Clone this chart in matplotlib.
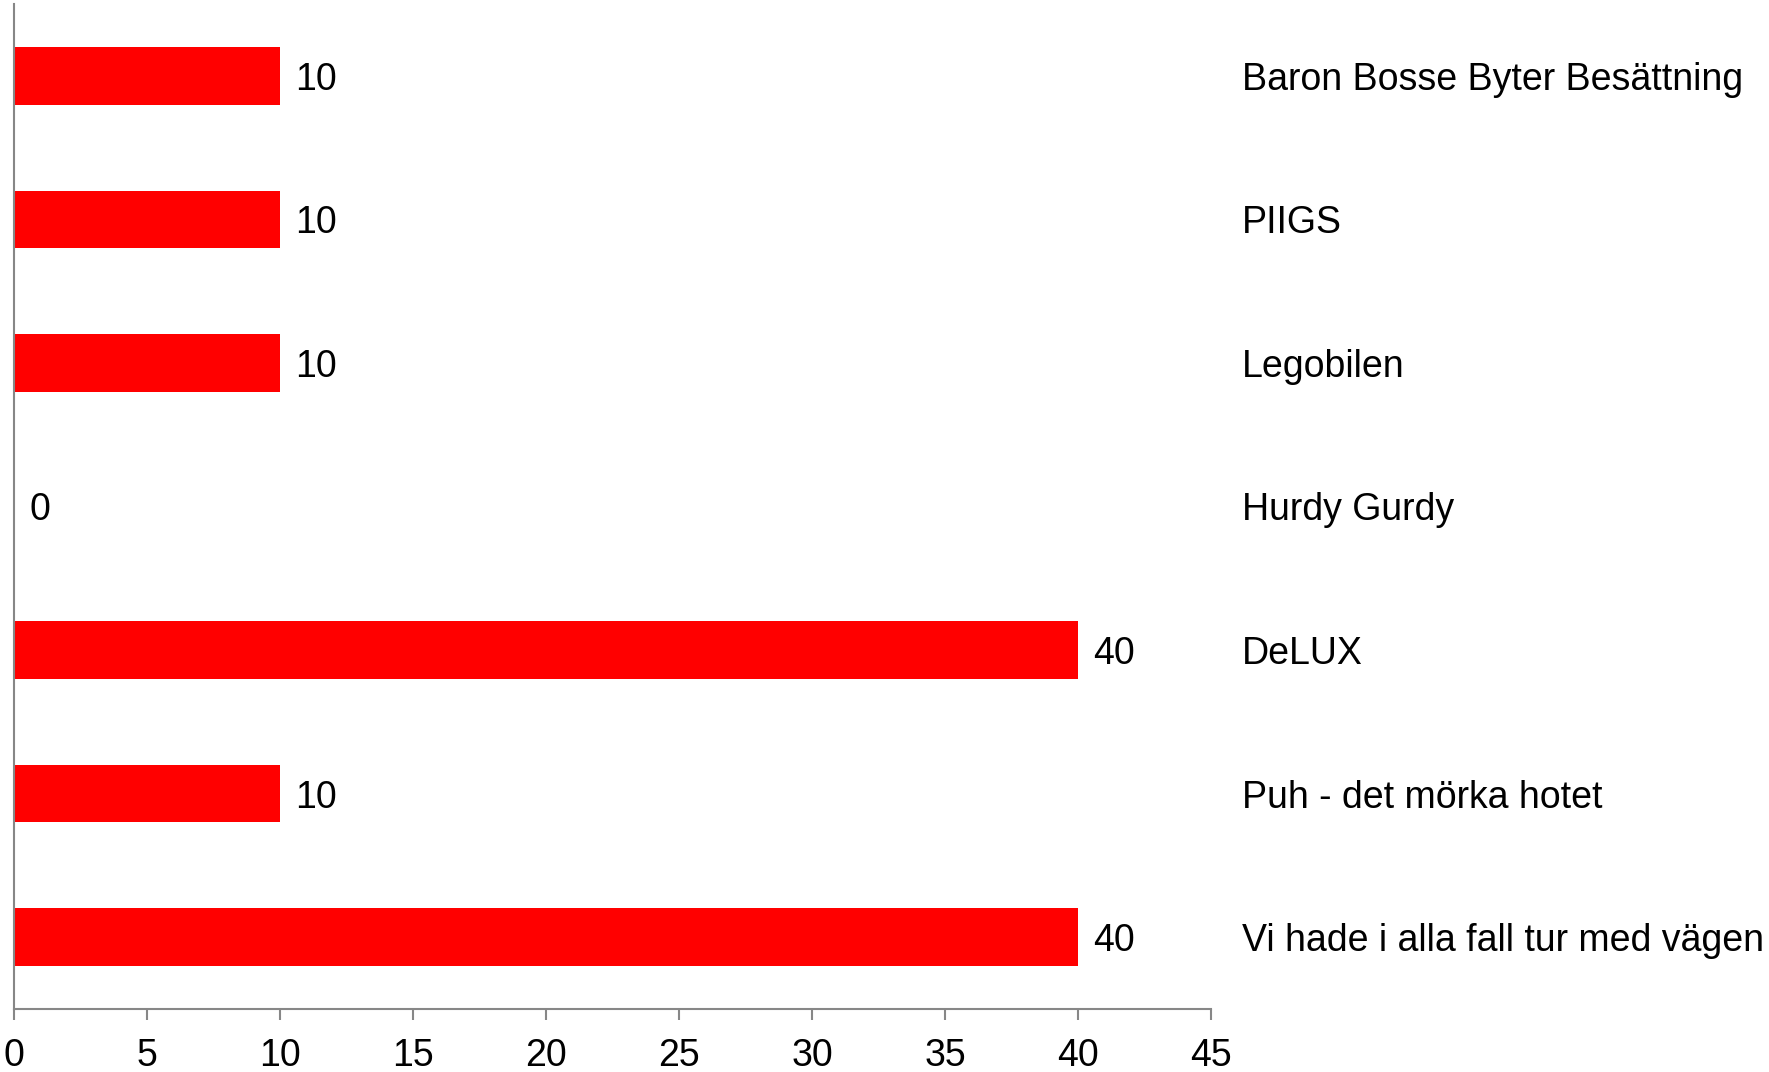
import matplotlib.pyplot as plt
import numpy as np

# Data (top to bottom)
categories = ['Baron Bosse Byter Besättning', 'PIIGS', 'Legobilen', 'Hurdy Gurdy',
              'DeLUX', 'Puh - det mörka hotet', 'Vi hade i alla fall tur med vägen']
values = [10, 10, 10, 0, 40, 10, 40]
xticks = [0, 5, 10, 15, 20, 25, 30, 35, 40, 45]

plt.rcParams['font.family'] = ['Liberation Sans', 'DejaVu Sans']
axis_grey = '#878787'
fsize = 27

fig = plt.figure(figsize=(17.69, 10.72), dpi=100)
ax = fig.add_axes([14 / 1769, 1 - 1009 / 1072, (1211 - 14) / 1769, (1009 - 4) / 1072])

y = np.arange(len(categories))
bars = ax.barh(y, values, height=0.4, color='#FF0000')
ax.set_ylim(len(categories) - 0.5, -0.5)
ax.set_xlim(0, 45)

# value labels to the right of each bar
for yy, v in zip(y, values):
    ax.annotate(str(v), xy=(v, yy), xytext=(11, 0), textcoords='offset points',
                ha='left', va='center_baseline', fontsize=fsize, color='black')

ax.set_xticks(xticks)
ax.set_xticklabels([str(t) for t in xticks], fontsize=fsize)
ax.tick_params(axis='x', length=8, width=1.5, color=axis_grey, pad=13)

ax.yaxis.tick_right()
ax.set_yticks(y)
ax.set_yticklabels(categories, fontsize=fsize, va='center_baseline')
ax.tick_params(axis='y', length=0, pad=22)

for side in ['top', 'right']:
    ax.spines[side].set_visible(False)
for side in ['left', 'bottom']:
    ax.spines[side].set_color(axis_grey)
    ax.spines[side].set_linewidth(1.5)

fig.savefig('out.png', dpi=100)
